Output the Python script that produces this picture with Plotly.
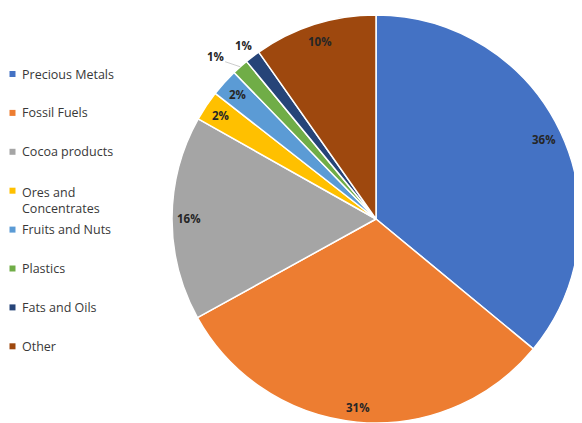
import math
import plotly.graph_objects as go

# ---- data ----
categories = ["Precious Metals", "Fossil Fuels", "Cocoa products", "Ores and Concentrates",
              "Fruits and Nuts", "Plastics", "Fats and Oils", "Other"]
legend_labels = ["Precious Metals", "Fossil Fuels", "Cocoa products", "Ores and<br>Concentrates",
                 "Fruits and Nuts", "Plastics", "Fats and Oils", "Other"]
shares = [36.0, 31.0, 16.2, 2.4, 2.2, 1.3, 1.2, 9.75]
pct_labels = ["36%", "31%", "16%", "2%", "2%", "1%", "1%", "10%"]
colors = ["#4472C4", "#ED7D31", "#A5A5A5", "#FFC000", "#5B9BD5", "#70AD47", "#264478", "#9E480E"]

# ---- layout geometry (page has an 8px body margin) ----
OFF = 8
W, H = 582 - OFF, 423 - OFF
CX, CY, R = 376 - OFF, 219 - OFF, 204          # pie centre / radius in px
label_r = [0.91, 0.93, 0.915, 0.915, 0.915, 1.12, 1.07, 0.915]
label_dang = [0, 0, 0, 0, 0, -3, 0, 0]
leader = [False, False, False, False, False, True, False, False]

fig = go.Figure()
fig.add_trace(go.Pie(
    labels=categories, values=shares, sort=False, direction="clockwise", rotation=0,
    marker=dict(colors=colors, line=dict(color="white", width=1.5)),
    textinfo="none", hoverinfo="label+percent", showlegend=False,
    domain=dict(x=[(CX - R) / W, min(1, (CX + R) / W)],
                y=[max(0, (H - CY - R) / H), (H - CY + R) / H]),
))

def px_to_paper(x, y):
    return x / W, 1 - y / H

total = sum(shares)
annotations = []
shapes = []
cum = 0.0
for i, v in enumerate(shares):
    mid = (cum + v / 2) / total * 360.0
    cum += v
    ang = math.radians(mid + label_dang[i])
    lx = CX + label_r[i] * R * math.sin(ang)
    ly = CY - label_r[i] * R * math.cos(ang)
    px, py = px_to_paper(lx, ly)
    annotations.append(dict(x=px, y=py, xref="paper", yref="paper", text="<b>" + pct_labels[i] + "</b>",
                            showarrow=False, font=dict(family="Open Sans, Liberation Sans, sans-serif",
                                                       size=11.5, color="#262626"),
                            xanchor="center", yanchor="middle"))
    if leader[i]:
        ex = CX + R * math.sin(math.radians(mid))
        ey = CY - R * math.cos(math.radians(mid))
        sx, sy = lx + 10, ly + 5
        x0, y0 = px_to_paper(sx, sy)
        x1, y1 = px_to_paper(ex, ey)
        shapes.append(dict(type="line", xref="paper", yref="paper", x0=x0, y0=y0, x1=x1, y1=y1,
                           line=dict(color="#BFBFBF", width=0.8)))

# ---- legend drawn at the left ----
LEG_Y0, LEG_DY, MARK_X, TEXT_X, MS = 74 - OFF, 38.9, 12.5 - OFF, 20 - OFF, 6
for i, lab in enumerate(legend_labels):
    yc = LEG_Y0 + i * LEG_DY
    nlines = lab.count("<br>") + 1
    ty = yc + (nlines - 1) * 19 / 2
    tx, typ = px_to_paper(TEXT_X, ty)
    annotations.append(dict(x=tx, y=typ, xref="paper", yref="paper", text=lab, showarrow=False,
                            xanchor="left", yanchor="middle", align="left",
                            font=dict(family="Open Sans, Liberation Sans, sans-serif", size=12.5,
                                      color="#383838")))
    x0, y0 = px_to_paper(MARK_X - MS / 2, yc - MS / 2)
    x1, y1 = px_to_paper(MARK_X + MS / 2, yc + MS / 2)
    shapes.append(dict(type="rect", xref="paper", yref="paper", x0=x0, y0=y0, x1=x1, y1=y1,
                       fillcolor=colors[i], line=dict(width=0)))

fig.update_layout(
    width=W, height=H, margin=dict(l=0, r=0, t=0, b=0),
    paper_bgcolor="white", plot_bgcolor="white",
    annotations=annotations, shapes=shapes, showlegend=False,
)

fig.write_html("out.html")
